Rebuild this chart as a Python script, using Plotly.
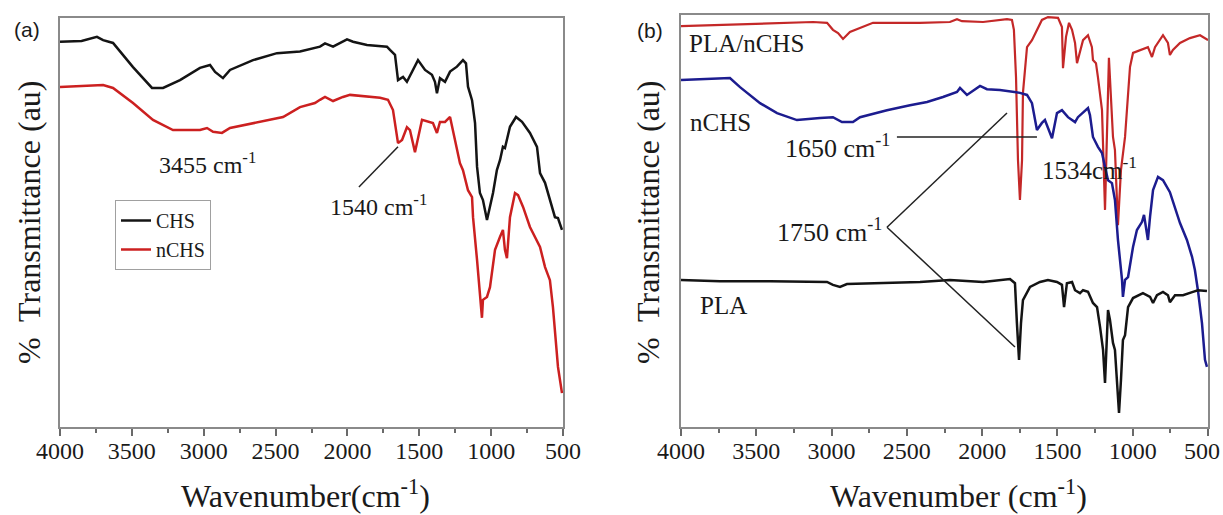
import plotly.graph_objects as go

# ---------------- Panel (a) data ----------------
chs_wn = [4000, 3850, 3743, 3700, 3631, 3492, 3360, 3283, 3165, 3026, 2956, 2921, 2866, 2817, 2657,
          2490, 2330, 2226, 2191, 2156, 2100, 2003, 1961, 1864, 1725, 1704, 1669, 1648, 1613, 1586,
          1551, 1509, 1460, 1412, 1391, 1377, 1356, 1321, 1286, 1238, 1196, 1175, 1161, 1133, 1112,
          1098, 1078, 1064, 1057, 1029, 1008, 987, 960, 938, 918, 904, 869, 827, 785, 730,
          681, 660, 625, 591, 556, 535, 507]
chs_t = [94.2, 94.4, 95.4, 94.6, 93.9, 88.0, 82.9, 82.9, 84.8, 87.8, 88.5, 86.8, 85.3, 87.3, 89.7,
         91.4, 91.8, 92.7, 93.0, 93.8, 93.0, 94.8, 94.2, 93.4, 93.0, 92.2, 91.0, 84.8, 85.6, 84.4,
         86.9, 89.7, 87.3, 86.1, 84.4, 81.6, 85.3, 84.4, 86.9, 88.1, 89.7, 88.9, 83.2, 79.9, 74.3,
         63.6, 57.2, 56.0, 55.5, 50.6, 53.8, 57.2, 62.8, 65.3, 68.5, 68.2, 73.4, 75.8, 74.6, 71.9,
         68.5, 62.1, 59.7, 55.5, 51.3, 51.1, 48.2]

nchs_a_wn = [4000, 3800, 3700, 3631, 3492, 3353, 3214, 3026, 2977, 2935, 2873, 2817, 2657, 2448, 2330,
             2226, 2191, 2156, 2100, 2031, 1982, 1773, 1718, 1683, 1648, 1620, 1586, 1565, 1530, 1481,
             1405, 1377, 1356, 1321, 1286, 1265, 1238, 1217, 1196, 1161, 1133, 1126, 1098, 1078, 1064,
             1057, 1029, 1008, 973, 938, 918, 904, 890, 869, 834, 813, 778, 730, 681, 660,
             625, 591, 570, 535, 507]
nchs_a_t = [83.1, 83.4, 83.6, 82.9, 79.2, 75.1, 72.6, 72.6, 73.1, 72.2, 71.9, 73.1, 74.3, 75.8, 78.2,
            79.2, 80.0, 80.7, 79.7, 80.7, 81.2, 80.5, 80.0, 77.5, 69.4, 70.2, 73.3, 72.6, 67.2, 75.1,
            74.3, 71.9, 74.6, 74.6, 75.8, 72.6, 67.7, 64.5, 62.8, 57.9, 56.2, 51.3, 40.8, 31.1, 26.7,
            31.1, 31.8, 34.2, 43.3, 46.5, 48.2, 43.3, 41.3, 51.3, 57.2, 56.7, 53.8, 48.9, 45.7, 44.0,
            39.1, 35.9, 29.3, 14.7, 8.3]

# ---------------- Panel (b) data ----------------
pla_nchs_wn = [4000, 3741, 3522, 3296, 3123, 3030, 2991, 2957, 2924, 2878, 2811, 2725, 2413, 2214, 2167,
               2134, 1994, 1835, 1802, 1789, 1775, 1762, 1749, 1735, 1729, 1702, 1669, 1636, 1603, 1563,
               1496, 1470, 1463, 1443, 1423, 1403, 1383, 1370, 1350, 1330, 1297, 1271, 1264, 1244, 1231,
               1204, 1184, 1158, 1131, 1118, 1098, 1078, 1051, 1018, 998, 952, 899, 872, 852, 799,
               766, 753, 733, 686, 620, 553, 500]
pla_nchs_t = [97.3, 97.6, 97.8, 98.1, 98.3, 98.1, 96.4, 95.6, 94.2, 95.9, 96.8, 98.1, 98.1, 98.3, 99.0,
              98.5, 98.3, 99.0, 98.8, 96.4, 84.9, 64.8, 55.1, 64.8, 81.1, 92.2, 93.9, 96.4, 98.8, 99.5,
              99.3, 97.1, 87.1, 94.7, 98.1, 96.4, 93.2, 88.3, 91.5, 93.9, 95.1, 92.2, 89.1, 88.3, 84.9,
              76.9, 52.7, 89.6, 70.4, 67.2, 49.0, 62.4, 70.4, 87.4, 90.8, 91.5, 92.2, 89.8, 92.2, 95.1,
              93.2, 90.3, 91.5, 93.2, 94.4, 95.1, 93.9]

nchs_b_wn = [4000, 3675, 3608, 3475, 3362, 3230, 3077, 2991, 2931, 2858, 2811, 2632, 2479, 2366, 2260,
             2167, 2147, 2101, 2014, 1968, 1882, 1749, 1702, 1669, 1636, 1603, 1583, 1536, 1503, 1470,
             1430, 1383, 1364, 1330, 1297, 1284, 1264, 1231, 1204, 1184, 1164, 1138, 1118, 1098, 1071,
             1065, 1051, 1031, 998, 972, 938, 925, 905, 899, 885, 865, 832, 799, 753, 686,
             640, 606, 587, 567, 540, 520, 507]
nchs_b_t = [84.2, 84.7, 82.5, 78.6, 76.2, 74.5, 75.0, 75.2, 74.0, 74.0, 75.2, 76.9, 78.1, 78.9, 80.1,
            81.3, 82.3, 80.6, 82.8, 82.0, 81.8, 81.1, 80.6, 78.6, 72.1, 73.8, 74.5, 70.1, 76.2, 76.9,
            75.2, 74.0, 75.2, 76.2, 77.4, 75.7, 70.4, 68.0, 66.5, 63.1, 59.9, 59.2, 55.1, 45.4, 35.7,
            31.6, 35.7, 36.4, 43.7, 47.8, 49.8, 51.5, 47.1, 45.4, 51.0, 57.5, 60.7, 59.9, 57.0, 49.5,
            45.4, 41.3, 38.1, 33.2, 25.2, 16.3, 14.6]

pla_wn = [4000, 3741, 3409, 3030, 2991, 2944, 2898, 2745, 2413, 2214, 1994, 1815, 1782, 1769, 1755,
          1742, 1729, 1682, 1616, 1563, 1503, 1470, 1456, 1437, 1403, 1383, 1350, 1330, 1297, 1264,
          1237, 1217, 1197, 1184, 1171, 1164, 1151, 1131, 1118, 1105, 1091, 1078, 1065, 1051, 1031,
          998, 932, 885, 865, 839, 799, 766, 753, 719, 666, 600, 567, 507]
pla_t = [35.7, 35.4, 35.4, 35.2, 34.5, 34.0, 34.7, 34.9, 35.2, 35.7, 35.2, 35.9, 34.9, 25.2, 16.3,
         25.2, 30.8, 34.0, 35.2, 35.7, 35.2, 34.5, 29.1, 34.9, 35.2, 33.2, 32.5, 33.2, 32.8, 30.1,
         29.1, 24.3, 18.7, 10.7, 21.1, 28.4, 26.0, 20.4, 18.7, 11.4, 3.4, 11.4, 21.1, 22.3, 29.1,
         31.3, 32.5, 31.6, 30.1, 32.0, 32.8, 32.0, 30.3, 32.0, 32.0, 32.8, 33.2, 33.0]

tick_vals = [4000, 3500, 3000, 2500, 2000, 1500, 1000, 500]
tick_text = ["4000", "3500", "3000", "2500", "2000", "1500", "1000", "500"]

# ---------------- Styling ----------------
W, H = 1223, 515
SERIF = "Liberation Serif, Times New Roman, serif"
SANS = "Liberation Sans, Arial, sans-serif"
TXT = "#1a1a1a"
BLACK = "#141414"
RED_A = "#cc2020"
RED_B = "#c42828"
BLUE = "#1c1c8f"
AXCOL = "#8a8a8a"
TICKSIZE = 24


def px_x(p):
    return p / W


def px_y(p):
    return 1 - p / H


fig = go.Figure()
fig.add_trace(go.Scatter(x=chs_wn, y=chs_t, mode="lines", name="CHS",
                         line=dict(color=BLACK, width=2.5), xaxis="x", yaxis="y"))
fig.add_trace(go.Scatter(x=nchs_a_wn, y=nchs_a_t, mode="lines", name="nCHS",
                         line=dict(color=RED_A, width=2.5), xaxis="x", yaxis="y"))
fig.add_trace(go.Scatter(x=pla_nchs_wn, y=pla_nchs_t, mode="lines", name="PLA/nCHS", showlegend=False,
                         line=dict(color=RED_B, width=2.2), xaxis="x2", yaxis="y2"))
fig.add_trace(go.Scatter(x=nchs_b_wn, y=nchs_b_t, mode="lines", name="nCHS", showlegend=False,
                         line=dict(color=BLUE, width=2.5), xaxis="x2", yaxis="y2"))
fig.add_trace(go.Scatter(x=pla_wn, y=pla_t, mode="lines", name="PLA", showlegend=False,
                         line=dict(color=BLACK, width=2.5), xaxis="x2", yaxis="y2"))

# panel (b): the right-most label sits against the page edge, so it is drawn
# as a separate right-aligned text below.
tick_text_b = tick_text[:-1] + [""]


def xaxis_style(ticktext):
    return dict(range=[4000, 500], tickmode="array", tickvals=tick_vals, ticktext=ticktext,
                ticks="outside", ticklen=7, tickwidth=1.5, tickcolor="#6a6a6a",
                showline=True, linecolor=AXCOL, linewidth=2, mirror=True,
                showgrid=False, zeroline=False, automargin=False,
                ticklabeloverflow="allow", ticklabelstandoff=-6,
                tickfont=dict(family=SERIF, size=TICKSIZE, color=TXT),
                minor=dict(ticks="outside", ticklen=4, tickwidth=1.5, tickcolor="#6a6a6a",
                           dtick=250, showgrid=False))


ycommon = dict(range=[0, 100], showticklabels=False, ticks="", showline=True, linecolor=AXCOL,
               linewidth=2, mirror=True, showgrid=False, zeroline=False, automargin=False)

fig.update_layout(
    width=W, height=H, margin=dict(l=0, r=0, t=0, b=0, pad=0, autoexpand=False),
    paper_bgcolor="white", plot_bgcolor="white",
    xaxis=dict(domain=[px_x(60), px_x(563)], anchor="y", **xaxis_style(tick_text)),
    yaxis=dict(domain=[px_y(427), px_y(18)], anchor="x", **ycommon),
    xaxis2=dict(domain=[px_x(681), px_x(1208)], anchor="y2", **xaxis_style(tick_text_b)),
    yaxis2=dict(domain=[px_y(427), px_y(15)], anchor="x2", **ycommon),
    legend=dict(x=px_x(115), y=px_y(200), xanchor="left", yanchor="top",
                bordercolor="#a0a0a0", borderwidth=1, bgcolor="white",
                font=dict(family=SERIF, size=20, color=TXT), tracegroupgap=0),
    showlegend=True,
)

ann = []


def add_text(text, x, y, xref, yref, size=24, xanchor="left", family=SERIF, angle=0):
    ann.append(dict(text=text, x=x, y=y, xref=xref, yref=yref, showarrow=False,
                    xanchor=xanchor, yanchor="middle", textangle=angle,
                    font=dict(family=family, size=size, color=TXT)))


# panel labels
add_text("(a)", px_x(27), px_y(29), "paper", "paper", size=21, xanchor="center", family=SANS)
add_text("(b)", px_x(650), px_y(31), "paper", "paper", size=21, xanchor="center", family=SANS)

# axis titles
add_text("%  Transmittance (au)", px_x(29), px_y(222), "paper", "paper", size=32,
         xanchor="center", angle=-90)
add_text("%  Transmittance (au)", px_x(648), px_y(222), "paper", "paper", size=32,
         xanchor="center", angle=-90)
add_text("Wavenumber(cm<sup>-1</sup>)", px_x(305), px_y(494), "paper", "paper", size=32,
         xanchor="center")
add_text("Wavenumber (cm<sup>-1</sup>)", px_x(958), px_y(494), "paper", "paper", size=32,
         xanchor="center")

# last tick label of panel (b), kept inside the page
ann.append(dict(text=tick_text[-1], x=tick_vals[-1], y=px_y(451), xref="x2", yref="paper",
                showarrow=False, xanchor="right", yanchor="middle", xshift=14,
                font=dict(family=SERIF, size=TICKSIZE, color=TXT)))

# panel (a) peak labels
add_text("3455 cm<sup>-1</sup>", 3325, 64.5, "x", "y")
add_text("1540 cm<sup>-1</sup>", 2135, 54.3, "x", "y")

# panel (b) labels
add_text("PLA/nCHS", 3960, 93.2, "x2", "y2", size=25)
add_text("nCHS", 3954, 74.0, "x2", "y2", size=25)
add_text("PLA", 3887, 29.6, "x2", "y2", size=25)
add_text("1650 cm<sup>-1</sup>", 2600, 68.0, "x2", "y2", size=26, xanchor="right")
add_text("1534cm<sup>-1</sup>", 1616, 62.9, "x2", "y2", size=25)
add_text("1750 cm<sup>-1</sup>", 2650, 47.8, "x2", "y2", size=26, xanchor="right")

fig.update_layout(annotations=ann)

# leader lines
lines = [
    ("x", "y", 1920, 58.7, 1648, 68.5),
    ("x2", "y2", 2566, 70.4, 1636, 70.4),
    ("x2", "y2", 2632, 48.5, 1835, 76.2),
    ("x2", "y2", 2632, 48.5, 1782, 19.4),
]
for xr, yr, x0, y0, x1, y1 in lines:
    fig.add_shape(type="line", xref=xr, yref=yr, x0=x0, y0=y0, x1=x1, y1=y1,
                  line=dict(color="#222222", width=1.5))

fig.write_html("out.html")
